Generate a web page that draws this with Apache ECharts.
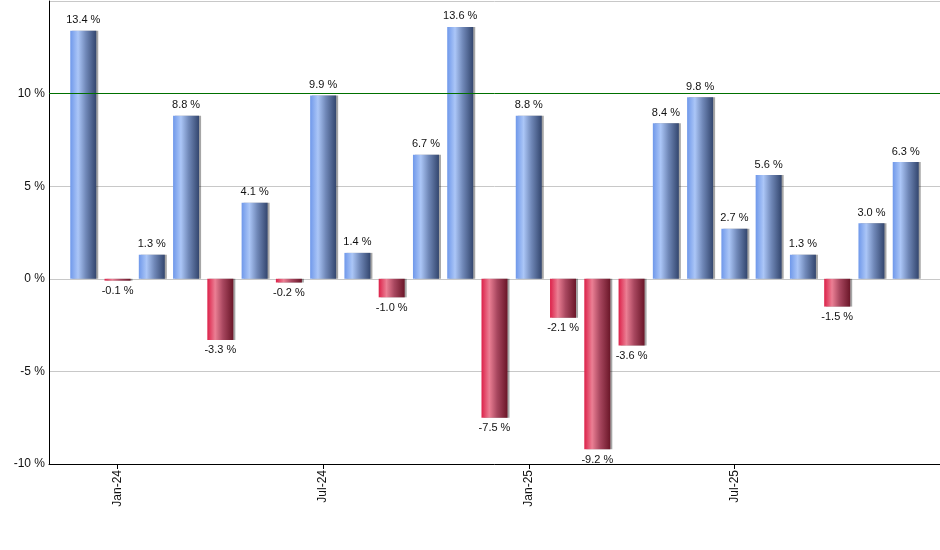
<!DOCTYPE html>
<html>
<head>
<meta charset="utf-8">
<script src="https://cdn.jsdelivr.net/npm/echarts@6/dist/echarts.min.js"></script>
<style>html,body{margin:0;padding:0;background:#fff}#c{width:940px;height:550px}</style>
</head>
<body>
<div id="c"></div>
<script>
var months = ["Dec-23","Jan-24","Feb-24","Mar-24","Apr-24","May-24","Jun-24","Jul-24","Aug-24","Sep-24","Oct-24","Nov-24","Dec-24","Jan-25","Feb-25","Mar-25","Apr-25","May-25","Jun-25","Jul-25","Aug-25","Sep-25","Oct-25","Nov-25","Dec-25"];
var returns = [13.4,-0.1,1.3,8.8,-3.3,4.1,-0.2,9.9,1.4,-1.0,6.7,13.6,-7.5,8.8,-2.1,-9.2,-3.6,8.4,9.8,2.7,5.6,1.3,-1.5,3.0,6.3];
var tickLabels = ["Jan-24","Jul-24","Jan-25","Jul-25"];
var yTicks = [-10,-5,0,5,10,15];

var cats = [''].concat(months).concat(['']);
function grad(pos){
  return pos ? new echarts.graphic.LinearGradient(0,0,1,0,[
    {offset:0,color:'#6f98ea'},{offset:0.3,color:'#abc6f7'},{offset:0.6,color:'#7088b8'},{offset:1,color:'#33466e'}])
  : new echarts.graphic.LinearGradient(0,0,1,0,[
    {offset:0,color:'#dc2149'},{offset:0.3,color:'#eb7f94'},{offset:0.6,color:'#a8475f'},{offset:1,color:'#6a1628'}]);
}
var data = [null];
returns.forEach(function(v){
  data.push({value:v,itemStyle:{color:grad(v>=0)},label:{position:v>=0?'top':'bottom'}});
});
data.push(null);

var chart = echarts.init(document.getElementById('c'));
chart.setOption({
  animation:false,
  grid:{left:49,right:-1,top:1,bottom:86,containLabel:false},
  xAxis:{
    type:'category',data:cats,boundaryGap:false,
    axisLine:{onZero:false,lineStyle:{color:'#000',width:1}},
    axisTick:{show:true,length:5,lineStyle:{color:'#000'},interval:function(i,v){return tickLabels.indexOf(v)>=0;}},
    axisLabel:{rotate:90,margin:6,color:'#111',fontFamily:'Liberation Sans, Arial',fontSize:12,
      interval:function(i,v){return tickLabels.indexOf(v)>=0;}},
    splitLine:{show:false}
  },
  yAxis:{
    type:'value',min:-10,max:15,interval:5,
    axisLine:{show:true,lineStyle:{color:'#000'}},
    axisTick:{show:false},
    axisLabel:{margin:4,color:'#111',fontFamily:'Liberation Sans, Arial',fontSize:12,
      formatter:function(v){return v===15?'':v+' %';}},
    splitLine:{lineStyle:{color:'#c8c8c8',width:1}}
  },
  series:[{
    type:'bar',data:data,barWidth:26,
    itemStyle:{shadowColor:'rgba(0,0,0,0.35)',shadowOffsetX:2,shadowOffsetY:0,shadowBlur:0},
    label:{show:true,distance:5,color:'#111',fontFamily:'Liberation Sans, Arial',fontSize:11,
      formatter:function(p){return p.value.toFixed(1)+' %';}},
    markLine:{silent:true,symbol:'none',label:{show:false},
      lineStyle:{color:'#007000',width:1,type:'solid'},data:[{yAxis:10}]}
  }]
});
</script>
</body>
</html>
